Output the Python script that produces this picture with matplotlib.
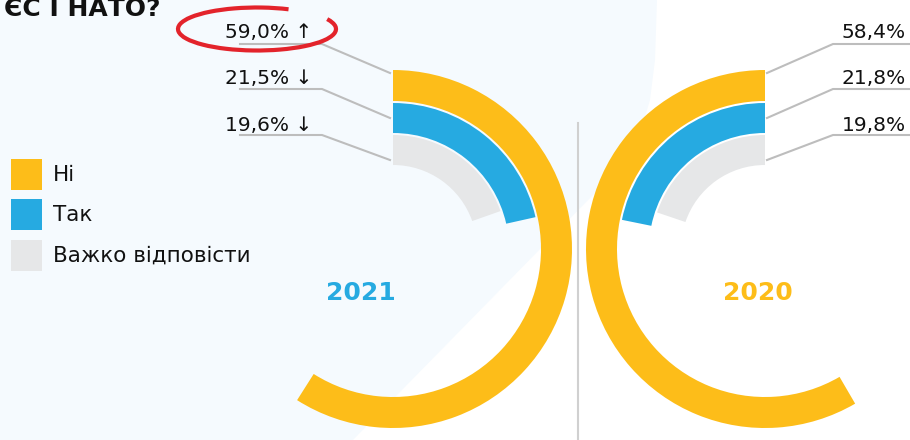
import matplotlib.pyplot as plt
from matplotlib.patches import Wedge, Polygon, Arc, Rectangle

# дані
categories = ['Ні', 'Так', 'Важко відповісти']
years = ['2021', '2020']
values_2021 = [59.0, 21.5, 19.6]
values_2020 = [58.4, 21.8, 19.8]
labels_2021 = ['59,0% ↑', '21,5% ↓', '19,6% ↓']
labels_2020 = ['58,4%', '21,8%', '19,8%']

colors = ['#FDBD19', '#26AAE1', '#E6E7E8']
year_colors = ['#26AAE1', '#FDBD19']
line_col = '#BDBDBD'
fam = ['DejaVu Sans']

H = 440
fig = plt.figure(figsize=(9.1, 4.4), dpi=100)
fig.patch.set_facecolor('white')
ax = fig.add_axes([0, 0, 1, 1])
ax.set_xlim(0, 910)
ax.set_ylim(0, H)
ax.axis('off')

def Y(y):  # pixel y (top-down) -> axes y
    return H - y

# светлий фон зліва
bg = [(0, 0), (657, 0), (655, 60), (650, 100), (640, 133), (623, 167),
      (595, 193), (353, 440), (0, 440)]
ax.add_patch(Polygon([(x, Y(y)) for x, y in bg], closed=True,
                     facecolor='#F5FAFE', edgecolor='none', zorder=0))

# роздільник
ax.plot([578, 578], [Y(123), Y(440)], color='#D0D0D0', lw=1.5, zorder=1)

# кільця
outer = [179, 146, 114]
width = [31, 30, 30]
centers = [(393, Y(249)), (765, Y(249))]

for k, vals in enumerate([values_2021, values_2020]):
    cx, cy = centers[k]
    for i, v in enumerate(vals):
        span = 360 * v / 100
        if k == 0:
            t1, t2 = 90 - span, 90
        else:
            t1, t2 = 90, 90 + span
        ax.add_patch(Wedge((cx, cy), outer[i], t1, t2, width=width[i],
                           facecolor=colors[i], edgecolor='none', zorder=2))

# підписи з виносками
text_y = [32, 78, 125]
line_y = [44, 89, 135]
end_y = [73, 118, 160]
for i in range(3):
    # 2021
    ax.text(225, Y(text_y[i]), labels_2021[i], fontsize=14.5, family=fam,
            color='#111111', ha='left', va='center', zorder=4)
    ax.plot([240, 322, 390], [Y(line_y[i]), Y(line_y[i]), Y(end_y[i])],
            color=line_col, lw=1.5, zorder=3)
    # 2020
    ax.text(906, Y(text_y[i]), labels_2020[i], fontsize=14.5, family=fam,
            color='#111111', ha='right', va='center', zorder=4)
    ax.plot([910, 833, 767], [Y(line_y[i]), Y(line_y[i]), Y(end_y[i])],
            color=line_col, lw=1.5, zorder=3)

# червоне коло навколо 59,0%
ax.add_patch(Arc((257, Y(29)), 158, 43, theta1=32, theta2=368,
                 color='#E3232B', lw=3, zorder=5))

# легенда
legend_y = [159, 199, 240]
for i, cat in enumerate(categories):
    ax.add_patch(Rectangle((11, Y(legend_y[i] + 31)), 31, 31,
                           facecolor=colors[i], edgecolor='none', zorder=2))
    ax.text(53, Y(legend_y[i] + 16), cat, fontsize=15.5, family=fam,
            color='#111111', ha='left', va='center')

# роки
ax.text(361, Y(293), years[0], fontsize=18, fontweight='bold', family=fam,
        color=year_colors[0], ha='center', va='center')
ax.text(758, Y(293), years[1], fontsize=18, fontweight='bold', family=fam,
        color=year_colors[1], ha='center', va='center')

# заголовок (обрізаний зверху, як в оригіналі)
ax.text(4, Y(16), 'ЄС І НАТО?', fontsize=18, fontweight='heavy', family=fam,
        color='#111111', ha='left', va='baseline')

fig.savefig('out.png', dpi=100)
